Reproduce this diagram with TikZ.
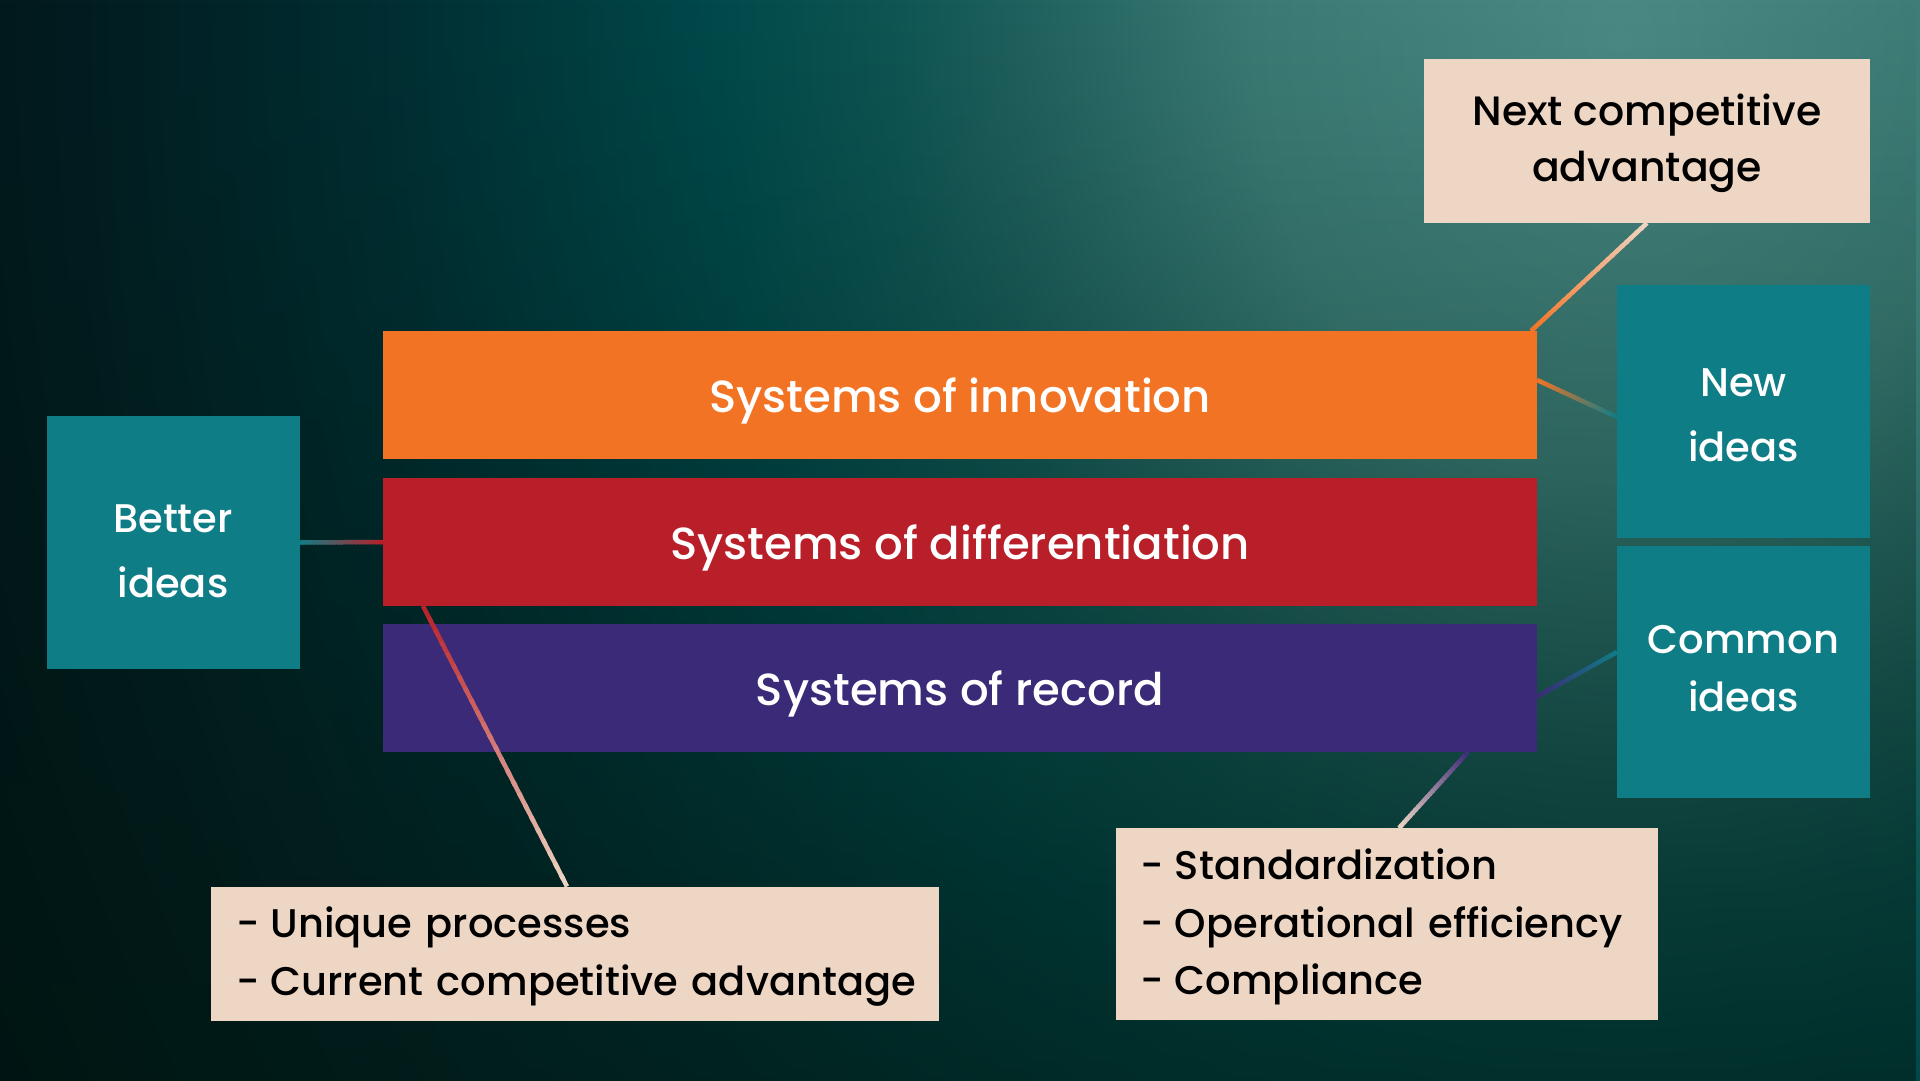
\documentclass[tikz,border=0pt]{standalone}
\usepackage{fontspec}
\setmainfont{Poppins}[UprightFont=* Medium]
\usetikzlibrary{calc,fadings}
\definecolor{cOrange}{HTML}{F37325}
\definecolor{cRed}{HTML}{B81F28}
\definecolor{cPurple}{HTML}{3B2A77}
\definecolor{cTeal}{HTML}{0F7D86}
\definecolor{cPeach}{HTML}{EED6C4}
\definecolor{bgA}{HTML}{4A8A85}
\definecolor{bgB}{HTML}{3B7B75}
\definecolor{bgC}{HTML}{1E605D}
\definecolor{bgD}{HTML}{0E5553}
\definecolor{bgE}{HTML}{00484A}
\definecolor{bgF}{HTML}{012F33}
\definecolor{bgG}{HTML}{021A1E}
\definecolor{bgH}{HTML}{000A0E}
\definecolor{bgShade}{HTML}{001A12}
\pgfdeclareradialshading{bgrad}{\pgfpoint{0bp}{0bp}}{%
 color(0bp)=(bgA); color(4.575bp)=(bgB); color(7.625bp)=(bgC); color(9.15bp)=(bgD);
 color(11.45bp)=(bgE); color(15.3bp)=(bgF); color(19.875bp)=(bgG); color(25bp)=(bgH);
 color(50bp)=(bgH)}
\tikzfading[name=fadedown, top color=transparent!100, bottom color=transparent!45]
\tikzset{
 blk/.style={anchor=north west, inner sep=0pt, outer sep=0pt},
 bar/.style={blk, minimum width=1154, minimum height=128, text=white,
   font=\fontsize{45}{54}\selectfont, text height=35.5pt, text depth=0pt},
 sq/.style={blk, fill=cTeal, minimum width=253, minimum height=253, text=white,
   align=center},
 note/.style={blk, fill=cPeach, text=black, inner xsep=25pt},
 conn/.style={line width=4.5pt, line cap=butt}
}
\newcommand{\gradline}[4]{%
 \foreach \i in {0,...,23}{%
  \pgfmathsetmacro{\pa}{\i/24}%
  \pgfmathsetmacro{\pb}{min(1,(\i+1.4)/24)}%
  \pgfmathsetmacro{\mix}{100-100*(\i+0.5)/24}%
  \draw[conn, draw=#3!\mix!#4] ($(#1)!\pa!(#2)$) -- ($(#1)!\pb!(#2)$);
 }}
\newcommand{\dashitem}[1]{\mbox{\makebox[34.5pt][l]{-}#1}}
\begin{document}
\begin{tikzpicture}[x=1pt,y=-1pt]
\useasboundingbox (0,0) rectangle (1920,1080);
\begin{scope}
 \clip (0,0) rectangle (1920,1080);
 \fill[bgH] (0,0) rectangle (1920,1080);
 \shade[shading=bgrad] (1620,40) ellipse (2000 and 2400);
 \fill[bgShade, path fading=fadedown] (0,0) rectangle (1920,1080);
\end{scope}
% bars
\node[bar, fill=cOrange] (innov) at (383,331) {Systems of innovation};
\node[bar, fill=cRed] (diff) at (383,478) {Systems of differentiation};
\node[bar, fill=cPurple] (rec) at (383,624) {Systems of record};
% squares
\node[sq, font=\fontsize{40}{65}\selectfont] (better) at (46.5,416)
  {\rule{0pt}{45pt}Better\\ideas};
\node[sq, font=\fontsize{40}{65}\selectfont] (newi) at (1617,285)
  {\rule{0pt}{35.4pt}New\\ideas};
\node[sq, font=\fontsize{40}{57.5}\selectfont, minimum height=252] (common) at (1617,546)
  {Common\\ideas\rule[-7.4pt]{0pt}{1pt}};
% notes
\node[note, minimum width=446, minimum height=164, align=center,
  font=\fontsize{41}{56}\selectfont] (nca) at (1424,59)
  {\rule{0pt}{36.5pt}Next competitive\\advantage};
\node[note, minimum width=728, minimum height=134, text width=678, align=left,
  font=\fontsize{40}{57.5}\selectfont] (uniq) at (211,886.5)
  {\rule{0pt}{37pt}\dashitem{Unique processes}\\\dashitem{Current competitive advantage}};
\node[note, minimum width=542.5, minimum height=192, text width=492.5, align=left,
  font=\fontsize{40}{57.5}\selectfont] (std) at (1115.5,828)
  {\rule{0pt}{37pt}\dashitem{Standardization}\\\dashitem{Operational efficiency}\\\dashitem{Compliance}};
% anchor points
\coordinate (p1) at ($(innov.north east)+(-6,0)$);
\coordinate (p2a) at ($(innov.east)+(0,-15)$);
\coordinate (p2b) at ($(newi.west)+(0,5.5)$);
\coordinate (p4a) at ($(diff.south west)+(40,0)$);
\coordinate (p4b) at ($(uniq.north west)+(356,0)$);
\coordinate (p5a) at ($(rec.east)+(0,8.5)$);
\coordinate (p5b) at ($(common.west)+(0,-20)$);
\coordinate (p6a) at ($(rec.south east)+(-69,0)$);
\coordinate (p6b) at ($(std.north west)+(283.5,0)$);
% connectors
\gradline{nca.south}{p1}{cPeach}{cOrange}
\gradline{p2a}{p2b}{cOrange}{cTeal}
\gradline{better.east}{diff.west}{cTeal}{cRed}
\gradline{p4a}{p4b}{cRed}{cPeach}
\gradline{p5a}{p5b}{cPurple}{cTeal}
\gradline{p6a}{p6b}{cPurple}{cPeach}
\end{tikzpicture}
\end{document}
